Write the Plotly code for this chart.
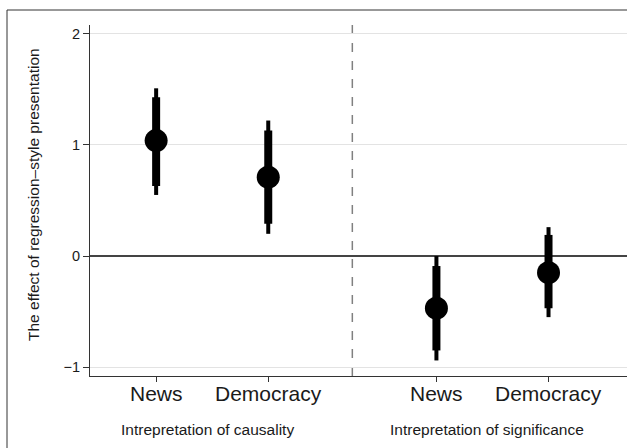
import plotly.graph_objects as go

# Estimates by outcome and interpretation type
categories = ["News", "Democracy", "News", "Democracy"]
positions = [1.0, 2.0, 3.5, 4.5]
estimate = [1.04, 0.71, -0.47, -0.15]
ci90_low = [0.63, 0.29, -0.85, -0.47]
ci90_high = [1.43, 1.13, -0.09, 0.19]
ci95_low = [0.55, 0.20, -0.94, -0.55]
ci95_high = [1.51, 1.22, 0.00, 0.26]
group_labels = ["Intrepretation of causality", "Intrepretation of significance"]
y_ticks = [-1, 0, 1, 2]
y_tick_text = ["\u22121", "0", "1", "2"]
divider = 2.75

FONT = "Liberation Sans, Arial, Helvetica, sans-serif"
TEXT = "#1a1a1a"
W, H = 627, 448
ML, MR, MT, MB = 90, 0, 25, 72
pw, ph = W - ML - MR, H - MT - MB


def px_x(p):
    return (p - ML) / pw


def px_y(p):
    return (H - MB - p) / ph


fig = go.Figure()

# 95% intervals (thin)
fig.add_trace(go.Scatter(
    x=positions, y=estimate, mode="markers",
    marker=dict(size=0.1, color="black"),
    error_y=dict(type="data", symmetric=False,
                 array=[h - e for h, e in zip(ci95_high, estimate)],
                 arrayminus=[e - l for l, e in zip(ci95_low, estimate)],
                 thickness=4, width=0, color="black"),
    hoverinfo="skip", showlegend=False,
))
# 90% intervals (thick)
fig.add_trace(go.Scatter(
    x=positions, y=estimate, mode="markers",
    marker=dict(size=0.1, color="black"),
    error_y=dict(type="data", symmetric=False,
                 array=[h - e for h, e in zip(ci90_high, estimate)],
                 arrayminus=[e - l for l, e in zip(ci90_low, estimate)],
                 thickness=8, width=0, color="black"),
    hoverinfo="skip", showlegend=False,
))
# Point estimates
fig.add_trace(go.Scatter(
    x=positions, y=estimate, mode="markers",
    marker=dict(size=23, color="black", line=dict(width=0)),
    showlegend=False,
))

# Divider between the two interpretation types
fig.add_shape(type="line", xref="x", yref="paper", x0=divider, x1=divider,
              y0=0, y1=1, line=dict(color="#808080", width=1.5, dash="dash"),
              layer="below")

# Outer frame
fig.add_shape(type="rect", xref="paper", yref="paper",
              x0=px_x(7), x1=px_x(W + 20), y0=px_y(H + 20), y1=px_y(10),
              line=dict(color="#333333", width=1), fillcolor="rgba(0,0,0,0)")

# Category labels under the ticks
for pos, cat in zip(positions, categories):
    fig.add_annotation(x=pos, xref="x", y=px_y(393), yref="paper",
                       text=cat, showarrow=False,
                       font=dict(size=21, color=TEXT, family=FONT),
                       xanchor="center", yanchor="middle")

# Group labels under the category labels
for i, label in enumerate(group_labels):
    center = (positions[2 * i] + positions[2 * i + 1]) / 2
    fig.add_annotation(x=center, xref="x", y=px_y(430), yref="paper",
                       text=label, showarrow=False, xshift=-5,
                       font=dict(size=15.5, color=TEXT, family=FONT),
                       xanchor="center", yanchor="middle")

# Y-axis title
fig.add_annotation(x=px_x(33), xref="paper", y=px_y(195), yref="paper",
                   text="The effect of regression\u2013style presentation",
                   textangle=-90, showarrow=False,
                   font=dict(size=15.5, color=TEXT, family=FONT),
                   xanchor="center", yanchor="middle")

fig.update_layout(
    width=W, height=H,
    margin=dict(l=ML, r=MR, t=MT, b=MB),
    paper_bgcolor="white", plot_bgcolor="white",
    font=dict(family=FONT, color=TEXT),
    xaxis=dict(range=[0.41, 5.2], tickvals=positions,
               ticktext=["" for _ in positions],
               showgrid=False, zeroline=False, showline=True,
               linecolor="#333333", linewidth=1.2, ticks="outside",
               ticklen=5, tickcolor="#333333"),
    yaxis=dict(range=[-1.08, 2.08], tickvals=y_ticks, ticktext=y_tick_text,
               showgrid=True, gridcolor="#e3e3e3", gridwidth=1.2,
               zeroline=True, zerolinecolor="#444444", zerolinewidth=1.5,
               showline=True, linecolor="#333333", linewidth=1.2,
               ticks="outside", ticklen=6, tickcolor="#333333",
               tickfont=dict(size=14.5, family=FONT, color=TEXT)),
)

fig.write_html("out.html")
